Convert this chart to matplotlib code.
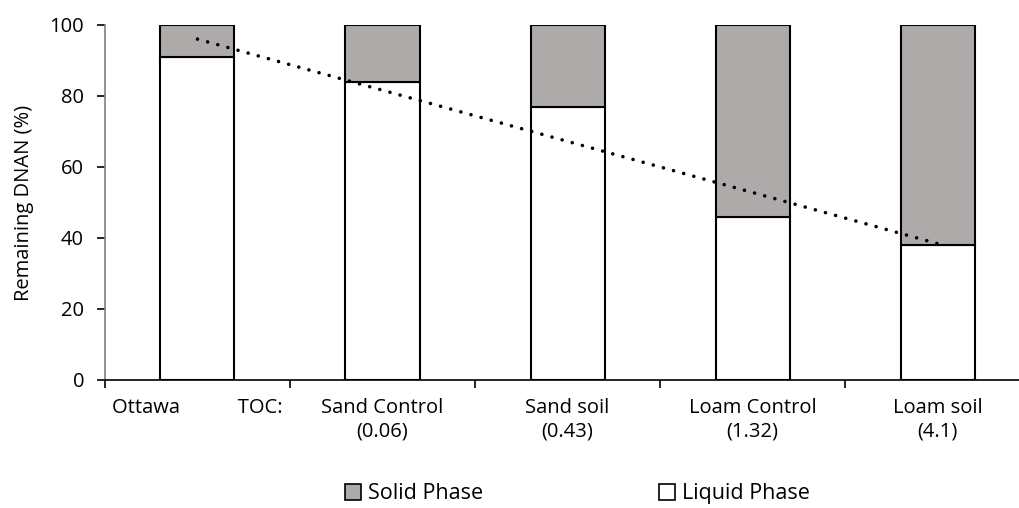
import numpy as np
import matplotlib
matplotlib.use("Agg")
import matplotlib.pyplot as plt
from matplotlib.patches import Patch

plt.rcParams['font.family'] = ['Open Sans', 'DejaVu Sans']

labels = ["Ottawa           TOC:", "Sand Control\n(0.06)", "Sand soil\n(0.43)",
          "Loam Control\n(1.32)", "Loam soil\n(4.1)"]
liquid = [91, 84, 77, 46, 38]
solid = [9, 16, 23, 54, 62]

gray = '#AEAAAA'
fs = 14.5

fig = plt.figure(figsize=(10.2, 5.08), dpi=100)
ax = fig.add_axes([0.1029, 0.252, 0.907, 0.699])

x = np.arange(len(labels))
ax.bar(x, liquid, width=0.4, color='white', edgecolor='black', linewidth=1.5, zorder=2)
ax.bar(x, solid, width=0.4, bottom=liquid, color=gray, edgecolor='black', linewidth=1.5, zorder=2)

# linear trend of liquid phase
k, b = np.polyfit(x, liquid, 1)
ax.plot(x, k * x + b, color='black', linewidth=2.6, linestyle=(0, (0.01, 2.9)),
        dash_capstyle='round', zorder=3)

ax.set_xlim(-0.5, 4.5)
ax.set_ylim(0, 100)
ax.set_yticks(range(0, 101, 20))
ax.set_xticks(np.arange(-0.5, 5, 1))
ax.set_xticklabels([])
ax.set_xticks(x, minor=True)
ax.set_xticklabels(labels, minor=True, fontsize=fs)
ax.tick_params(axis='x', which='minor', length=0, pad=13)
ax.tick_params(axis='x', which='major', length=6, width=1.2, direction='out')
ax.tick_params(axis='y', length=6, width=1.2, labelsize=fs, pad=9)
ax.set_ylabel('Remaining DNAN (%)', fontsize=fs, labelpad=11)

for s in ['top', 'right']:
    ax.spines[s].set_visible(False)
ax.spines['left'].set_color('#7f7f7f')
ax.spines['left'].set_linewidth(1.2)
ax.spines['bottom'].set_linewidth(1.2)

handles = [Patch(facecolor=gray, edgecolor='black', linewidth=1.2),
           Patch(facecolor='white', edgecolor='black', linewidth=1.2)]
fig.legend(handles, ['Solid Phase', 'Liquid Phase'], loc='center', bbox_to_anchor=(0.566, 0.028),
           ncol=2, frameon=False, fontsize=15.5, handlelength=0.75, handleheight=0.75,
           handletextpad=0.3, columnspacing=8.2, borderpad=0)

fig.savefig('out.png', dpi=100)
